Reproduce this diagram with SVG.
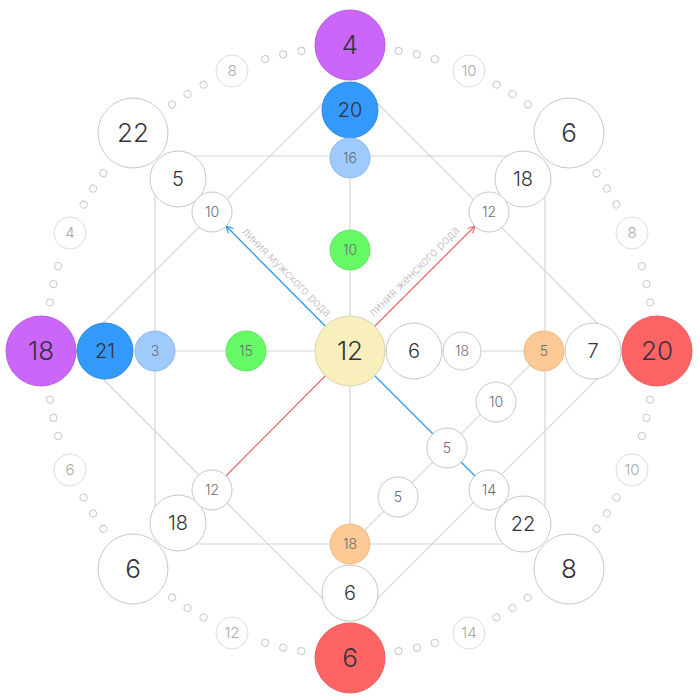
<svg xmlns="http://www.w3.org/2000/svg" xmlns:xlink="http://www.w3.org/1999/xlink" width="700" height="700" viewBox="0 0 700 700">
<style>
text{font-family:Inter,"Open Sans","Liberation Sans",sans-serif;font-weight:300;text-anchor:middle}
.ln{stroke:#d6d6d6;stroke-width:1.2;fill:none}
.w{fill:#fff;stroke:#c8c8c8;stroke-width:1}
.pu{fill:#cb66fb;stroke:#b85ae6;stroke-width:1}
.bl{fill:#3399fa;stroke:#2b88e0;stroke-width:1}
.lb{fill:#9fcbfc;stroke:#8ab9ef;stroke-width:1}
.gr{fill:#66fa66;stroke:#5ee85e;stroke-width:1}
.ye{fill:#f8efbc;stroke:#d9d2ae;stroke-width:1}
.or{fill:#fdc995;stroke:#f2b97f;stroke-width:1}
.rd{fill:#ff6464;stroke:#ee5a5a;stroke-width:1}
.ring{fill:#fff;stroke:#dcdcdc;stroke-width:1}
.dot{fill:#fff;stroke:#cbcbcb;stroke-width:1}
.tL{font-size:26px;fill:#33333d}
.tM{font-size:20px;fill:#33333d}
.tS{font-size:14px;fill:#6a6a72}
.tR{font-size:15px;fill:#a8a8a8}
.lbl{font-size:12px;fill:#bcbcbc;text-anchor:middle}
</style>
<defs>
<marker id="arB" markerUnits="userSpaceOnUse" markerWidth="10" markerHeight="10" refX="8" refY="4" orient="auto"><path d="M1,0.5 L8,4 L1,7.5" fill="none" stroke="#2b9af3" stroke-width="1.2"/></marker>
<marker id="arR" markerUnits="userSpaceOnUse" markerWidth="10" markerHeight="10" refX="8" refY="4" orient="auto"><path d="M1,0.5 L8,4 L1,7.5" fill="none" stroke="#ee6b6b" stroke-width="1.2"/></marker>
<circle id="d" class="dot" cx="350" cy="47" r="3.5"/>
</defs>
<g id="ring-dots">
<use xlink:href="#d" transform="rotate(9.2 350 351)"/><use xlink:href="#d" transform="rotate(12.7 350 351)"/><use xlink:href="#d" transform="rotate(16.2 350 351)"/><use xlink:href="#d" transform="rotate(28.8 350 351)"/><use xlink:href="#d" transform="rotate(32.3 350 351)"/><use xlink:href="#d" transform="rotate(35.8 350 351)"/>
<use xlink:href="#d" transform="rotate(54.2 350 351)"/><use xlink:href="#d" transform="rotate(57.7 350 351)"/><use xlink:href="#d" transform="rotate(61.2 350 351)"/><use xlink:href="#d" transform="rotate(73.8 350 351)"/><use xlink:href="#d" transform="rotate(77.3 350 351)"/><use xlink:href="#d" transform="rotate(80.8 350 351)"/>
<use xlink:href="#d" transform="rotate(99.2 350 351)"/><use xlink:href="#d" transform="rotate(102.7 350 351)"/><use xlink:href="#d" transform="rotate(106.2 350 351)"/><use xlink:href="#d" transform="rotate(118.8 350 351)"/><use xlink:href="#d" transform="rotate(122.3 350 351)"/><use xlink:href="#d" transform="rotate(125.8 350 351)"/>
<use xlink:href="#d" transform="rotate(144.2 350 351)"/><use xlink:href="#d" transform="rotate(147.7 350 351)"/><use xlink:href="#d" transform="rotate(151.2 350 351)"/><use xlink:href="#d" transform="rotate(163.8 350 351)"/><use xlink:href="#d" transform="rotate(167.3 350 351)"/><use xlink:href="#d" transform="rotate(170.8 350 351)"/>
<use xlink:href="#d" transform="rotate(189.2 350 351)"/><use xlink:href="#d" transform="rotate(192.7 350 351)"/><use xlink:href="#d" transform="rotate(196.2 350 351)"/><use xlink:href="#d" transform="rotate(208.8 350 351)"/><use xlink:href="#d" transform="rotate(212.3 350 351)"/><use xlink:href="#d" transform="rotate(215.8 350 351)"/>
<use xlink:href="#d" transform="rotate(234.2 350 351)"/><use xlink:href="#d" transform="rotate(237.7 350 351)"/><use xlink:href="#d" transform="rotate(241.2 350 351)"/><use xlink:href="#d" transform="rotate(253.8 350 351)"/><use xlink:href="#d" transform="rotate(257.3 350 351)"/><use xlink:href="#d" transform="rotate(260.8 350 351)"/>
<use xlink:href="#d" transform="rotate(279.2 350 351)"/><use xlink:href="#d" transform="rotate(282.7 350 351)"/><use xlink:href="#d" transform="rotate(286.2 350 351)"/><use xlink:href="#d" transform="rotate(298.8 350 351)"/><use xlink:href="#d" transform="rotate(302.3 350 351)"/><use xlink:href="#d" transform="rotate(305.8 350 351)"/>
<use xlink:href="#d" transform="rotate(324.2 350 351)"/><use xlink:href="#d" transform="rotate(327.7 350 351)"/><use xlink:href="#d" transform="rotate(331.2 350 351)"/><use xlink:href="#d" transform="rotate(343.8 350 351)"/><use xlink:href="#d" transform="rotate(347.3 350 351)"/><use xlink:href="#d" transform="rotate(350.8 350 351)"/>
</g>
<g id="connectors">
<line class="ln" x1="350" y1="158" x2="350" y2="544"/>
<line class="ln" x1="155" y1="351" x2="544" y2="351"/>
<line class="ln" x1="178" y1="156" x2="523" y2="156"/>
<line class="ln" x1="178" y1="544" x2="523" y2="544"/>
<line class="ln" x1="155" y1="179" x2="155" y2="523"/>
<line class="ln" x1="545" y1="179" x2="545" y2="523"/>
<polygon class="ln" points="350,76 625,351 350,626 75,351"/>
<line class="ln" x1="544" y1="351" x2="350" y2="545"/>
<line x1="350" y1="351" x2="226" y2="226" stroke="#2b9af3" stroke-width="1.3" marker-end="url(#arB)"/>
<line x1="350" y1="351" x2="489" y2="490" stroke="#2b9af3" stroke-width="1.3"/>
<line x1="350" y1="351" x2="475" y2="226" stroke="#ee6b6b" stroke-width="1.3" marker-end="url(#arR)"/>
<line x1="350" y1="351" x2="212" y2="490" stroke="#ee6b6b" stroke-width="1.3"/>
<text class="lbl" transform="translate(284,275) rotate(45)" textLength="120" lengthAdjust="spacingAndGlyphs">линия мужского рода</text>
<text class="lbl" transform="translate(417,274) rotate(-45)" textLength="122" lengthAdjust="spacingAndGlyphs">линия женского рода</text>
</g>
<g id="ring-labels">
<g id="r8a"><circle class="ring" cx="232" cy="71" r="16"/><text class="tR" x="232" y="71" dy=".36em">8</text></g>
<g id="r10a"><circle class="ring" cx="469" cy="71" r="16"/><text class="tR" x="469" y="71" dy=".36em">10</text></g>
<g id="r8b"><circle class="ring" cx="632" cy="233" r="16"/><text class="tR" x="632" y="233" dy=".36em">8</text></g>
<g id="r10b"><circle class="ring" cx="632" cy="470" r="16"/><text class="tR" x="632" y="470" dy=".36em">10</text></g>
<g id="r14"><circle class="ring" cx="469" cy="633" r="16"/><text class="tR" x="469" y="633" dy=".36em">14</text></g>
<g id="r12"><circle class="ring" cx="232" cy="633" r="16"/><text class="tR" x="232" y="633" dy=".36em">12</text></g>
<g id="r6"><circle class="ring" cx="70" cy="470" r="16"/><text class="tR" x="70" y="470" dy=".36em">6</text></g>
<g id="r4"><circle class="ring" cx="70" cy="233" r="16"/><text class="tR" x="70" y="233" dy=".36em">4</text></g>
</g>
<g id="n-top-4"><circle class="pu" cx="350" cy="45" r="35"/><text class="tL" x="350" y="45" dy=".36em">4</text></g>
<g id="n-top-20"><circle class="bl" cx="350" cy="110" r="28"/><text class="tM" x="350" y="110" dy=".36em">20</text></g>
<g id="n-top-16"><circle class="lb" cx="350" cy="158" r="20"/><text class="tS" x="350" y="158" dy=".36em">16</text></g>
<g id="n-top-10"><circle class="gr" cx="350" cy="250" r="20"/><text class="tS" x="350" y="250" dy=".36em">10</text></g>
<g id="n-center"><circle class="ye" cx="350" cy="351" r="35"/><text class="tL" x="350" y="351" dy=".36em">12</text></g>
<g id="n-bot-18"><circle class="or" cx="350" cy="544" r="20"/><text class="tS" x="350" y="544" dy=".36em">18</text></g>
<g id="n-bot-6w"><circle class="w" cx="350" cy="593" r="28"/><text class="tM" x="350" y="593" dy=".36em">6</text></g>
<g id="n-bot-6r"><circle class="rd" cx="350" cy="658" r="35"/><text class="tL" x="350" y="658" dy=".36em">6</text></g>
<g id="n-left-18"><circle class="pu" cx="41" cy="351" r="35"/><text class="tL" x="41" y="351" dy=".36em">18</text></g>
<g id="n-left-21"><circle class="bl" cx="105" cy="351" r="28"/><text class="tM" x="105" y="351" dy=".36em">21</text></g>
<g id="n-left-3"><circle class="lb" cx="155" cy="351" r="20"/><text class="tS" x="155" y="351" dy=".36em">3</text></g>
<g id="n-left-15"><circle class="gr" cx="246" cy="351" r="20"/><text class="tS" x="246" y="351" dy=".36em">15</text></g>
<g id="n-right-6"><circle class="w" cx="414" cy="351" r="28"/><text class="tM" x="414" y="351" dy=".36em">6</text></g>
<g id="n-right-18"><circle class="w" cx="462" cy="351" r="19"/><text class="tS" x="462" y="351" dy=".36em">18</text></g>
<g id="n-right-5"><circle class="or" cx="544" cy="351" r="20"/><text class="tS" x="544" y="351" dy=".36em">5</text></g>
<g id="n-right-7"><circle class="w" cx="593" cy="351" r="28"/><text class="tM" x="593" y="351" dy=".36em">7</text></g>
<g id="n-right-20"><circle class="rd" cx="657" cy="351" r="35"/><text class="tL" x="657" y="351" dy=".36em">20</text></g>
<g id="n-tl-22"><circle class="w" cx="133" cy="133" r="35"/><text class="tL" x="133" y="133" dy=".36em">22</text></g>
<g id="n-tl-5"><circle class="w" cx="178" cy="179" r="28"/><text class="tM" x="178" y="179" dy=".36em">5</text></g>
<g id="n-tl-10"><circle class="w" cx="212" cy="212" r="20"/><text class="tS" x="212" y="212" dy=".36em">10</text></g>
<g id="n-tr-6"><circle class="w" cx="569" cy="133" r="35"/><text class="tL" x="569" y="133" dy=".36em">6</text></g>
<g id="n-tr-18"><circle class="w" cx="523" cy="179" r="28"/><text class="tM" x="523" y="179" dy=".36em">18</text></g>
<g id="n-tr-12"><circle class="w" cx="489" cy="212" r="20"/><text class="tS" x="489" y="212" dy=".36em">12</text></g>
<g id="n-bl-6"><circle class="w" cx="133" cy="569" r="35"/><text class="tL" x="133" y="569" dy=".36em">6</text></g>
<g id="n-bl-18"><circle class="w" cx="178" cy="523" r="28"/><text class="tM" x="178" y="523" dy=".36em">18</text></g>
<g id="n-bl-12"><circle class="w" cx="212" cy="490" r="20"/><text class="tS" x="212" y="490" dy=".36em">12</text></g>
<g id="n-br-8"><circle class="w" cx="569" cy="569" r="35"/><text class="tL" x="569" y="569" dy=".36em">8</text></g>
<g id="n-br-22"><circle class="w" cx="523" cy="524" r="28"/><text class="tM" x="523" y="524" dy=".36em">22</text></g>
<g id="n-br-14"><circle class="w" cx="489" cy="490" r="20"/><text class="tS" x="489" y="490" dy=".36em">14</text></g>
<g id="n-in-10"><circle class="w" cx="496" cy="402" r="20"/><text class="tS" x="496" y="402" dy=".36em">10</text></g>
<g id="n-in-5a"><circle class="w" cx="447" cy="448" r="20"/><text class="tS" x="447" y="448" dy=".36em">5</text></g>
<g id="n-in-5b"><circle class="w" cx="398" cy="497" r="20"/><text class="tS" x="398" y="497" dy=".36em">5</text></g>
</svg>
